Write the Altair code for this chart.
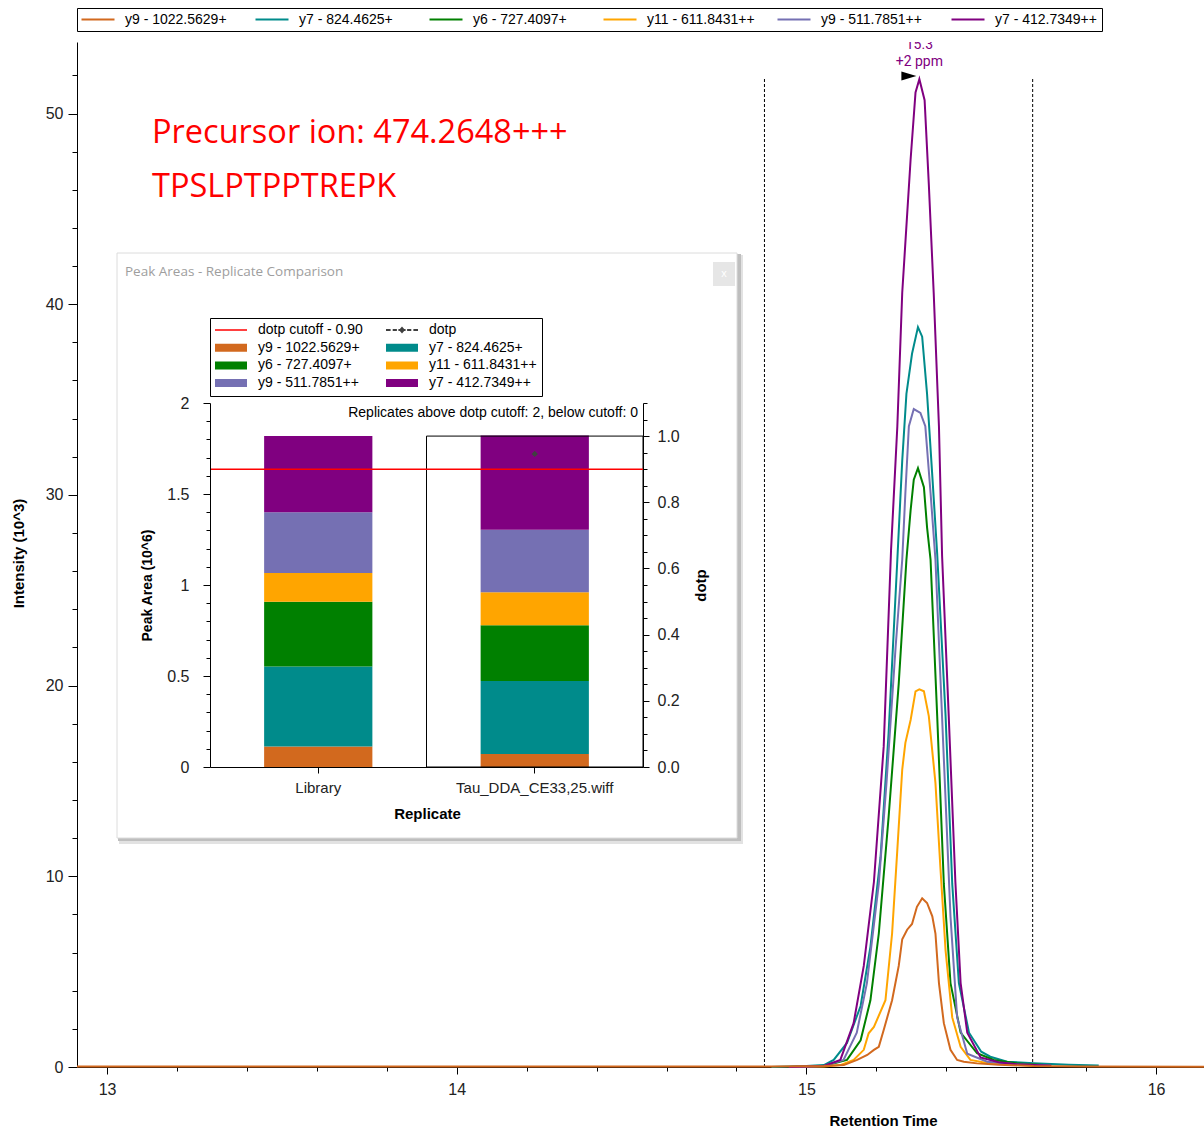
import altair as alt
import pandas as pd

# ---------------- data ----------------
TRANSITIONS = ["y9 - 1022.5629+", "y7 - 824.4625+", "y6 - 727.4097+",
               "y11 - 611.8431++", "y9 - 511.7851++", "y7 - 412.7349++"]
COLORS = ["#D2691E", "#008B8B", "#008000", "#FFA500", "#7570B3", "#800080"]

# chromatogram traces (retention time in min, intensity in 10^3)
t_y9_1022 = [12.914, 14.0, 14.9, 15.05, 15.107, 15.145, 15.174, 15.193, 15.207, 15.221, 15.245,
             15.264, 15.274, 15.288, 15.302, 15.316, 15.331, 15.345, 15.360, 15.369, 15.379,
             15.393, 15.412, 15.431, 15.450, 15.488, 15.55, 15.65, 15.8, 16.137]
i_y9_1022 = [0.02, 0.03, 0.03, 0.05, 0.10, 0.37, 0.63, 0.90, 1.06, 1.94, 3.5,
             5.3, 6.7, 7.2, 7.5, 8.4, 8.85, 8.6, 7.9, 7.0, 4.4,
             2.3, 0.9, 0.37, 0.28, 0.19, 0.12, 0.05, 0.02, 0.01]

t_y7_824 = [14.9, 15.0, 15.05, 15.078, 15.116, 15.155, 15.183, 15.212, 15.235, 15.260, 15.274,
            15.286, 15.302, 15.319, 15.331, 15.345, 15.360, 15.374, 15.398, 15.417, 15.436,
            15.465, 15.50, 15.526, 15.574, 15.65, 15.75, 15.836]
i_y7_824 = [0.0, 0.05, 0.10, 0.37, 1.26, 3.2, 6.3, 11.0, 17.5, 26.6, 31.8,
            35.3, 37.4, 38.8, 38.3, 35.3, 31.0, 26.9, 18.4, 9.6, 4.4,
            1.8, 0.8, 0.54, 0.28, 0.2, 0.12, 0.08]

t_y6_727 = [14.95, 15.05, 15.116, 15.155, 15.183, 15.207, 15.235, 15.264, 15.286, 15.298, 15.307,
            15.319, 15.336, 15.345, 15.355, 15.374, 15.393, 15.412, 15.441, 15.488, 15.536,
            15.60, 15.70]
i_y6_727 = [0.0, 0.05, 0.37, 1.4, 3.5, 7.0, 13.1, 20.1, 26.6, 29.2, 30.8,
            31.4, 30.4, 28.3, 26.6, 18.4, 9.6, 4.4, 1.8, 0.72, 0.37,
            0.2, 0.08]

t_y11_611 = [14.95, 15.05, 15.097, 15.135, 15.164, 15.178, 15.193, 15.226, 15.245, 15.260, 15.274,
             15.283, 15.298, 15.312, 15.323, 15.336, 15.350, 15.369, 15.383, 15.398, 15.417,
             15.441, 15.469, 15.52, 15.60, 15.70]
i_y11_611 = [0.0, 0.03, 0.1, 0.37, 0.9, 1.77, 2.1, 3.5, 7.0, 11.4, 15.6,
             17.0, 18.2, 19.7, 19.8, 19.7, 18.4, 14.9, 10.5, 6.1, 2.6,
             1.06, 0.37, 0.2, 0.1, 0.05]

t_y9_511 = [14.95, 15.05, 15.106, 15.144, 15.173, 15.207, 15.229, 15.255, 15.274, 15.283, 15.293,
            15.307, 15.326, 15.340, 15.355, 15.369, 15.392, 15.412, 15.431, 15.460, 15.517,
            15.60, 15.70]
i_y9_511 = [0.0, 0.05, 0.37, 1.8, 4.4, 9.6, 14.9, 22.0, 26.6, 30.1, 33.6,
            34.5, 34.3, 33.6, 30.1, 26.6, 16.6, 7.9, 2.6, 0.7, 0.28,
            0.15, 0.08]

t_y7_412 = [14.95, 15.05, 15.097, 15.135, 15.164, 15.193, 15.221, 15.242, 15.260, 15.274, 15.298,
            15.312, 15.323, 15.338, 15.350, 15.364, 15.379, 15.388, 15.407, 15.426, 15.441,
            15.460, 15.498, 15.55, 15.60, 15.70]
i_y7_412 = [0.0, 0.05, 0.37, 2.3, 5.3, 9.7, 16.8, 27.1, 33.6, 40.6, 47.6,
            51.1, 51.8, 50.7, 46.3, 40.6, 33.6, 26.8, 18.4, 9.7, 4.4,
            1.8, 0.5, 0.25, 0.15, 0.06]

BOUNDARIES = [14.88, 15.647]
BOUNDARY_TOP = 51.9
APEX_RT, APEX_I = 15.323, 51.8
APEX_LABEL = ["15.3", "+2 ppm"]
ID_RT, ID_I = 15.293, 51.97

PRECURSOR_TEXT = "Precursor ion: 474.2648+++"
PEPTIDE_TEXT = "TPSLPTPPTREPK"

# inset: peak areas (10^6) per replicate, per transition (bottom -> top)
REPLICATES = ["Library", "Tau_DDA_CE33,25.wiff"]
area_library = [0.112, 0.440, 0.356, 0.158, 0.334, 0.418]
area_tau = [0.072, 0.400, 0.307, 0.181, 0.343, 0.518]
DOTP_REPLICATE = "Tau_DDA_CE33,25.wiff"
DOTP_VALUE = 0.946
DOTP_CUTOFF = 0.90

LEG_KEYS = ["dotp cutoff - 0.90", "dotp"] + TRANSITIONS
LEG_FILLS = ["#FF0000", "#404040"] + COLORS

# ---------------- tables ----------------
traces = [(TRANSITIONS[0], t_y9_1022, i_y9_1022), (TRANSITIONS[1], t_y7_824, i_y7_824),
          (TRANSITIONS[2], t_y6_727, i_y6_727), (TRANSITIONS[3], t_y11_611, i_y11_611),
          (TRANSITIONS[4], t_y9_511, i_y9_511), (TRANSITIONS[5], t_y7_412, i_y7_412)]
rows = []
for name, ts, vs in traces:
    for t, v in zip(ts, vs):
        rows.append({"series": name, "t": t, "i": v})
df_lines = pd.DataFrame(rows)
df_brown = df_lines[df_lines.series == TRANSITIONS[0]]
df_others = df_lines[df_lines.series != TRANSITIONS[0]]

df_bounds = pd.DataFrame({"t": BOUNDARIES, "lo": [0, 0], "hi": [BOUNDARY_TOP] * 2})
df_apex = pd.DataFrame({"t": [APEX_RT], "i": [APEX_I]})
df_id = pd.DataFrame({"t": [ID_RT], "i": [ID_I]})
one = pd.DataFrame({"a": [0]})

arows = []
for rep, vals in zip(REPLICATES, [area_library, area_tau]):
    for k, (tr, v) in enumerate(zip(TRANSITIONS, vals)):
        arows.append({"replicate": rep, "transition": tr, "area": v, "idx": k})
df_areas = pd.DataFrame(arows)
df_sel = pd.DataFrame({"replicate": [DOTP_REPLICATE], "hi": [1.0], "lo": [0.0]})
df_dotp = pd.DataFrame({"replicate": [DOTP_REPLICATE], "dotp": [DOTP_VALUE]})
df_cut = pd.DataFrame({"dotp": [DOTP_CUTOFF]})
df_leg = pd.DataFrame({"key": LEG_KEYS})
dummy = pd.DataFrame({"t": [0.0], "i": [0.0], "v": [0.0]})

# ---------------- styling ----------------
W, H = 1127, 1025
FONT = "Liberation Sans, Arial, sans-serif"
NARROW = "Liberation Sans Narrow, Arial Narrow, Liberation Sans, Arial, sans-serif"
LABEL_COLOR = "#222222"

x_main = alt.Scale(domain=[12.914, 16.137], nice=False, zero=False)
y_main = alt.Scale(domain=[0, 53.75], nice=False, zero=False)

x_axis_main = alt.Axis(orient="bottom", values=[13, 14, 15, 16], format="d", tickSize=7,
                       tickColor="black", domainColor="black", labelFont=FONT, labelFontSize=16,
                       labelColor=LABEL_COLOR, labelPadding=7, grid=False,
                       title="Retention Time", titleFont=FONT, titleFontSize=15,
                       titleFontWeight="bold", titleColor="black", titleX=806, titleY=53,
                       titleAlign="center", titleBaseline="middle")
y_axis_main = alt.Axis(orient="left", values=[0, 10, 20, 30, 40, 50], tickSize=9,
                       tickColor="black", domainColor="black", labelFont=FONT, labelFontSize=16,
                       labelColor=LABEL_COLOR, labelPadding=5, grid=False,
                       title="Intensity (10^3)", titleFont=NARROW, titleFontSize=15,
                       titleFontWeight="bold", titleColor="black", titleAngle=270,
                       titleX=-59, titleY=511, titleAlign="center", titleBaseline="middle")

main_legend = alt.Legend(title=None, orient="none", legendX=0, legendY=-34, direction="horizontal",
                         columns=6, gridAlign="all", columnPadding=18,
                         symbolType="M-2.75,0H2.75", symbolSize=144, symbolOffset=9.5,
                         symbolStrokeWidth=2, labelOffset=20, labelFont=NARROW,
                         labelFontSize=14, labelColor="black", strokeColor="black",
                         fillColor="white", padding=4.5)
stroke_scale = alt.Scale(domain=TRANSITIONS, range=COLORS)

X = alt.X("t:Q", scale=x_main, axis=x_axis_main)

lines_others = alt.Chart(df_others).mark_line(strokeWidth=2).encode(
    x=X, y=alt.Y("i:Q", scale=y_main, axis=y_axis_main),
    stroke=alt.Stroke("series:N", scale=stroke_scale, legend=main_legend))
lines_brown = alt.Chart(df_brown).mark_line(strokeWidth=2).encode(
    x=X, y=alt.Y("i:Q", scale=y_main, axis=y_axis_main),
    stroke=alt.Stroke("series:N", scale=stroke_scale, legend=main_legend))
bounds = alt.Chart(df_bounds).mark_rule(color="black", strokeWidth=1, strokeDash=[3, 2]).encode(
    x=X, y=alt.Y("lo:Q", scale=y_main, axis=y_axis_main), y2="hi:Q")
apex_text = alt.Chart(df_apex).mark_text(
    text=APEX_LABEL, color="#800080", font="Roboto", fontSize=14, baseline="bottom",
    align="center", dy=-27, lineHeight=17, clip=True).encode(
    x=X, y=alt.Y("i:Q", scale=y_main, axis=y_axis_main))
id_marker = alt.Chart(df_id).mark_point(shape="M-1,-0.6L1,0L-1,0.6Z", size=225, filled=True,
                                        color="black", opacity=1).encode(
    x=X, y=alt.Y("i:Q", scale=y_main, axis=y_axis_main))
prec_text = alt.Chart(one).mark_text(text=PRECURSOR_TEXT, color="#FF0000", font="Open Sans",
                                     fontSize=32.5, align="left", baseline="alphabetic").encode(
    x=alt.value(75), y=alt.value(101))
pep_text = alt.Chart(one).mark_text(text=PEPTIDE_TEXT, color="#FF0000", font="Open Sans",
                                    fontSize=32.5, align="left", baseline="alphabetic").encode(
    x=alt.value(75), y=alt.value(155))

main_group = alt.layer(bounds, lines_others, lines_brown, apex_text, id_marker, prec_text, pep_text)

MINOR_X = [13.2, 13.4, 13.6, 13.8, 14.2, 14.4, 14.6, 14.8, 15.2, 15.4, 15.6, 15.8]
MINOR_Y = [2, 4, 6, 8, 12, 14, 16, 18, 22, 24, 26, 28, 32, 34, 36, 38, 42, 44, 46, 48, 52]
minor_main = alt.Chart(dummy).transform_filter("false").mark_point().encode(
    x=alt.X("t:Q", scale=x_main, axis=alt.Axis(orient="bottom", values=MINOR_X, labels=False,
                                                domain=False, tickSize=4, tickColor="black",
                                                grid=False, title=None)),
    y=alt.Y("i:Q", scale=y_main, axis=alt.Axis(orient="left", values=MINOR_Y, labels=False,
                                                domain=False, tickSize=5, tickColor="black",
                                                grid=False, title=None)))

# ---------------- inset ----------------
x_band = alt.Scale(domain=REPLICATES, range=[133, 566], paddingInner=0.5, paddingOuter=0.25)
y_area = alt.Scale(domain=[0, 2], range=[725, 361], nice=False, zero=False)
y_dotp = alt.Scale(domain=[0, 1.1], range=[725, 361], nice=False, zero=False)

inset_x_axis = alt.Axis(orient="bottom", offset=-300, zindex=1, tickSize=6, tickColor="black",
                        domainColor="black", labelFont=NARROW, labelFontSize=15,
                        labelColor=LABEL_COLOR, labelPadding=7, labelAngle=0, grid=False,
                        title="Replicate", titleFont=FONT, titleFontSize=15,
                        titleFontWeight="bold", titleColor="black", titleX=350, titleY=46,
                        titleAlign="center", titleBaseline="middle")
inset_y_axis = alt.Axis(orient="left", offset=-133, zindex=1, values=[0, 0.5, 1, 1.5, 2],
                        format="~g", tickSize=7, tickColor="black", domainColor="black",
                        labelFont=NARROW, labelFontSize=16, labelColor=LABEL_COLOR,
                        labelPadding=14, grid=False, title="Peak Area (10^6)",
                        titleFont=FONT, titleFontSize=14, titleFontWeight="bold",
                        titleColor="black", titleAngle=270, titleX=-63, titleY=543,
                        titleAlign="center", titleBaseline="middle")
dotp_axis = alt.Axis(orient="right", offset=-561, zindex=1, values=[0, 0.2, 0.4, 0.6, 0.8, 1.0],
                     format=".1f", tickSize=6, tickColor="black", domainColor="black",
                     labelFont=NARROW, labelFontSize=16, labelColor=LABEL_COLOR, labelPadding=8,
                     grid=False, title="dotp", titleFont=FONT, titleFontSize=15,
                     titleFontWeight="bold", titleColor="black", titleAngle=270, titleX=57,
                     titleY=543, titleAlign="center", titleBaseline="middle")

XB = alt.X("replicate:N", scale=x_band, axis=inset_x_axis)

shadow_outer = alt.Chart(one).mark_rect(color="#E2E2E2").encode(
    x=alt.value(42), x2=alt.value(666), y=alt.value(213), y2=alt.value(802))
shadow_inner = alt.Chart(one).mark_rect(color="#BEBEBE").encode(
    x=alt.value(41), x2=alt.value(664), y=alt.value(212), y2=alt.value(799))
frame = alt.Chart(one).mark_rect(fill="white", stroke="#DCDCDC", strokeWidth=1).encode(
    x=alt.value(40), x2=alt.value(660), y=alt.value(211), y2=alt.value(796))
close_btn = alt.Chart(one).mark_rect(color="#E6E6E6").encode(
    x=alt.value(636), x2=alt.value(658), y=alt.value(220), y2=alt.value(244))
close_x = alt.Chart(one).mark_text(text="x", color="white", fontSize=11, font=FONT).encode(
    x=alt.value(647), y=alt.value(232))
win_title = alt.Chart(one).mark_text(text="Peak Areas - Replicate Comparison", color="#9E9E9E",
                                     font="Open Sans", fontSize=13.5, align="left",
                                     baseline="middle").encode(x=alt.value(48), y=alt.value(230))
repl_text = alt.Chart(one).mark_text(text="Replicates above dotp cutoff: 2, below cutoff: 0",
                                     color="black", font=NARROW, fontSize=14, align="right",
                                     baseline="middle").encode(x=alt.value(561), y=alt.value(371))

bars = alt.Chart(df_areas).mark_bar().encode(
    x=XB,
    y=alt.Y("area:Q", stack="zero", scale=y_area, axis=inset_y_axis),
    color=alt.Color("transition:N", scale=alt.Scale(domain=TRANSITIONS, range=COLORS), legend=None),
    order=alt.Order("idx:Q", sort="ascending"))

sel_rect = alt.Chart(df_sel).mark_rect(fillOpacity=0, stroke="black", strokeWidth=1,
                                       width=alt.RelativeBandSize(band=2)).encode(
    x=XB, y=alt.Y("hi:Q", scale=y_dotp, axis=dotp_axis), y2="lo:Q")
cut_rule = alt.Chart(df_cut).mark_rule(color="#FF0000", strokeWidth=1.5).encode(
    x=alt.value(133), x2=alt.value(566), y=alt.Y("dotp:Q", scale=y_dotp, axis=dotp_axis))
dotp_pt = alt.Chart(df_dotp).mark_point(shape="diamond", size=40, filled=True, color="#404040",
                                        opacity=1).encode(
    x=XB, y=alt.Y("dotp:Q", scale=y_dotp, axis=dotp_axis))
dotp_group = alt.layer(sel_rect, cut_rule, dotp_pt)

BAR_PATH = "M-2.667,-0.667H2.667V0.667H-2.667Z"
CUT_PATH = "M-2.667,-0.12H2.667V0.12H-2.667Z"
DOTP_PATH = ("M-2.667,-0.15H-1.9V0.15H-2.667Z M-1.55,-0.15H-0.85V0.15H-1.55Z "
             "M0.85,-0.15H1.55V0.15H0.85Z M1.9,-0.15H2.667V0.15H1.9Z "
             "M-0.6,-0.15H0.6V0.15H-0.6Z M0,-0.6L0.5,0L0,0.6L-0.5,0Z")
LEG_SHAPES = [CUT_PATH, DOTP_PATH] + [BAR_PATH] * 6

inset_legend = alt.Legend(title=None, orient="none", legendX=133, legendY=276, columns=2,
                          direction="horizontal",
                          gridAlign="all", columnPadding=19, rowPadding=3.7, symbolSize=144,
                          symbolOffset=9, symbolStrokeWidth=0, symbolOpacity=1, labelOffset=20,
                          labelFont=NARROW, labelFontSize=14, labelColor="black",
                          strokeColor="black", fillColor="white", padding=5)
legend_dummy = alt.Chart(df_leg).transform_filter("false").mark_point(
    filled=True, opacity=1, strokeWidth=0).encode(
    fill=alt.Fill("key:N", scale=alt.Scale(domain=LEG_KEYS, range=LEG_FILLS), legend=inset_legend),
    shape=alt.Shape("key:N", scale=alt.Scale(domain=LEG_KEYS, range=LEG_SHAPES), legend=inset_legend))

inset_group = alt.layer(shadow_outer, shadow_inner, frame, close_btn, close_x, win_title,
                        bars, dotp_group, repl_text, legend_dummy).resolve_scale(y="independent")

MINOR_AREA = [0.1, 0.2, 0.3, 0.4, 0.6, 0.7, 0.8, 0.9, 1.1, 1.2, 1.3, 1.4, 1.6, 1.7, 1.8, 1.9]
MINOR_DOTP = [0.05, 0.1, 0.15, 0.25, 0.3, 0.35, 0.45, 0.5, 0.55, 0.65, 0.7, 0.75, 0.85, 0.9,
              0.95, 1.05, 1.1]
minor_area = alt.Chart(dummy).transform_filter("false").mark_point().encode(
    y=alt.Y("v:Q", scale=y_area, axis=alt.Axis(orient="left", offset=-133, zindex=1,
                                                values=MINOR_AREA, labels=False, domain=False,
                                                tickSize=4, tickColor="black", grid=False,
                                                title=None)))
minor_dotp = alt.Chart(dummy).transform_filter("false").mark_point().encode(
    y=alt.Y("v:Q", scale=y_dotp, axis=alt.Axis(orient="right", offset=-561, zindex=1,
                                                values=MINOR_DOTP, labels=False, domain=False,
                                                tickSize=4, tickColor="black", grid=False,
                                                title=None)))

chart = alt.layer(main_group, minor_main, inset_group, minor_area, minor_dotp).resolve_scale(
    x="independent", y="independent"
).properties(
    width=W, height=H,
    padding={"left": 77, "top": 42, "right": 0, "bottom": 64},
    autosize=alt.AutoSizeParams(type="none"),
    background="white",
).configure_view(strokeWidth=0)

chart.save("out.html", embed_options={"renderer": "svg", "actions": False})
